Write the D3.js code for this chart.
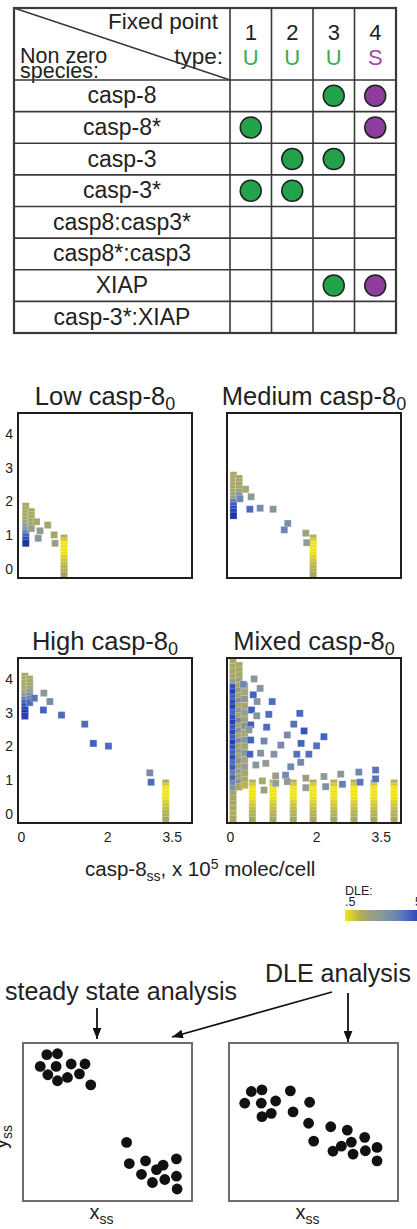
<!DOCTYPE html>
<html>
<head>
<meta charset="utf-8">
<script src="https://cdn.jsdelivr.net/npm/d3@7"></script>
<style>
  body { margin: 0; background: #fff; }
  svg { display: block; font-family: "Liberation Sans", Arial, sans-serif; }
</style>
</head>
<body>
<svg id="fig" width="417" height="1229"></svg>
<script>
// ---- Table data ----
const fixedPoints = [1, 2, 3, 4];
const fixedPointTypes = ["U", "U", "U", "S"];
const species = ["casp-8", "casp-8*", "casp-3", "casp-3*",
                 "casp8:casp3*", "casp8*:casp3", "XIAP", "casp-3*:XIAP"];
// fixed points in which each species is non zero
const nonZero = [[3, 4], [1, 4], [2, 3], [1, 2], [], [], [3, 4], []];

// ---- Scatter panels data: [casp-8ss, y value, DLE] ----
const panelNames = ["Low", "Medium", "High", "Mixed"];
const yTicks = [0, 1, 2, 3, 4];
const xTicks = [0, 2, 3.5];
const xTickLabels = ["0", "2", "3.5"];

const lowPoints = [
  [0.11, 1.86, 1.5], [0.11, 1.76, 1.5], [0.11, 1.66, 1.6], [0.11, 1.56, 1.5], [0.11, 1.46, 1.7],
  [0.11, 1.36, 1.8], [0.11, 1.26, 2.4], [0.11, 1.16, 2.8], [0.11, 1.06, 3.6], [0.11, 0.96, 4.2],
  [0.11, 0.86, 4.6], [0.11, 0.76, 5.0],
  [0.24, 1.70, 1.5], [0.24, 1.60, 1.5], [0.24, 1.50, 1.6], [0.24, 1.40, 1.7], [0.24, 1.30, 2.0],
  [0.24, 1.20, 2.2],
  [0.36, 1.40, 1.6], [0.44, 1.13, 2.4], [0.40, 0.91, 2.7], [0.62, 1.30, 1.6],
  [0.77, 1.01, 1.6], [0.79, 0.76, 2.1]
];
const mediumPoints = [
  [0.08, 2.78, 1.5], [0.08, 2.68, 1.5], [0.08, 2.58, 1.6], [0.08, 2.48, 1.5], [0.08, 2.38, 1.7],
  [0.08, 2.28, 1.6], [0.08, 2.18, 1.8], [0.08, 2.08, 2.2], [0.08, 1.98, 3.6], [0.08, 1.88, 4.3],
  [0.08, 1.78, 4.6], [0.08, 1.68, 4.8], [0.08, 1.58, 5.0],
  [0.21, 2.68, 1.5], [0.21, 2.58, 1.6], [0.21, 2.48, 1.7], [0.21, 2.38, 1.6], [0.21, 2.28, 2.0],
  [0.21, 2.18, 2.6],
  [0.36, 2.36, 1.7], [0.49, 2.14, 2.5], [0.23, 2.08, 3.4], [0.46, 1.77, 4.1], [0.70, 1.80, 3.2],
  [1.00, 1.77, 2.7], [1.34, 1.35, 3.0], [1.26, 1.16, 3.5], [1.76, 1.06, 1.9], [1.78, 0.78, 2.4]
];
const highPoints = [
  [0.09, 4.08, 1.5], [0.09, 3.98, 1.5], [0.09, 3.88, 1.6], [0.09, 3.78, 1.5], [0.09, 3.68, 1.7],
  [0.09, 3.58, 1.8], [0.09, 3.48, 2.6], [0.09, 3.38, 3.6], [0.09, 3.28, 4.3], [0.09, 3.18, 4.6],
  [0.09, 3.08, 4.8], [0.09, 2.98, 5.0], [0.09, 2.90, 4.8],
  [0.20, 4.00, 1.5], [0.20, 3.90, 1.6], [0.20, 3.80, 1.7], [0.20, 3.70, 2.0], [0.20, 3.60, 2.4],
  [0.20, 3.50, 3.0], [0.20, 3.40, 3.4], [0.20, 3.30, 4.0],
  [0.31, 3.43, 3.8], [0.53, 3.58, 2.6], [0.67, 3.33, 3.2], [0.52, 3.08, 4.2], [0.94, 2.93, 4.0],
  [1.48, 2.66, 4.0], [1.68, 2.09, 4.3], [2.03, 2.01, 4.0], [2.99, 1.22, 3.2], [3.02, 0.94, 4.0]
];
const mixedPoints = [
  // densest column along casp-8 = 0
  [0.07, 4.50, 1.5], [0.07, 4.35, 1.5], [0.07, 4.20, 1.5], [0.07, 4.05, 1.6], [0.07, 3.90, 2.5],
  [0.07, 3.75, 4.5], [0.07, 3.60, 4.8], [0.07, 3.45, 4.3], [0.07, 3.30, 4.6], [0.07, 3.15, 4.8],
  [0.07, 3.00, 4.2], [0.07, 2.85, 4.6], [0.07, 2.70, 4.8], [0.07, 2.55, 4.4], [0.07, 2.40, 4.7],
  [0.07, 2.25, 4.3], [0.07, 2.10, 4.8], [0.07, 1.95, 4.5], [0.07, 1.80, 4.2], [0.07, 1.65, 4.6],
  [0.07, 1.50, 4.0], [0.07, 1.35, 4.4], [0.07, 1.20, 3.6], [0.07, 1.05, 4.2], [0.07, 0.90, 3.4],
  [0.07, 0.75, 3.0], [0.07, 0.60, 1.8], [0.07, 0.45, 1.6], [0.07, 0.30, 1.5], [0.07, 0.15, 1.5],
  [0.07, 0.00, 1.4], [0.07, -0.15, 1.5],
  [0.21, 4.40, 1.5], [0.21, 4.25, 1.5], [0.21, 4.10, 1.6], [0.21, 3.95, 2.0], [0.21, 3.80, 1.6],
  [0.21, 3.65, 2.4], [0.21, 3.50, 1.7], [0.21, 3.35, 3.0], [0.21, 3.20, 1.6], [0.21, 3.05, 2.6],
  [0.21, 2.90, 1.8], [0.21, 2.75, 3.4], [0.21, 2.60, 1.6], [0.21, 2.45, 2.8], [0.21, 2.30, 1.7],
  [0.21, 2.15, 3.2], [0.21, 2.00, 1.6], [0.21, 1.85, 2.5], [0.21, 1.70, 1.8], [0.21, 1.55, 3.0],
  [0.21, 1.40, 1.7], [0.21, 1.25, 2.4], [0.21, 1.10, 1.6], [0.21, 0.95, 2.8], [0.21, 0.80, 1.5],
  [0.34, 3.80, 2.5], [0.34, 3.60, 1.7], [0.34, 3.40, 2.6], [0.34, 3.20, 1.6], [0.34, 3.00, 2.4],
  [0.34, 2.80, 1.7], [0.34, 2.60, 2.8], [0.34, 2.40, 1.6], [0.34, 2.20, 2.5], [0.34, 2.00, 1.8],
  [0.34, 1.80, 2.6], [0.34, 1.60, 1.7], [0.34, 1.40, 2.4], [0.34, 1.20, 1.6], [0.34, 1.00, 1.5],
  [0.34, 0.85, 1.3],
  // fan of intermediate states
  [0.56, 4.00, 2.6], [0.31, 3.84, 3.4], [0.70, 3.72, 2.8], [0.54, 3.53, 4.2], [0.98, 3.33, 4.0],
  [0.63, 3.33, 2.8], [0.50, 3.08, 4.3], [0.90, 2.95, 4.0], [1.62, 2.98, 4.1], [0.62, 2.91, 2.8],
  [0.48, 2.64, 4.3], [0.85, 2.57, 4.0], [1.48, 2.66, 3.9], [1.72, 2.46, 4.5], [0.44, 2.49, 2.6],
  [0.79, 2.16, 3.4], [1.33, 2.34, 3.2], [2.18, 2.29, 4.2], [0.48, 2.19, 4.2], [1.18, 2.04, 3.2],
  [1.65, 2.09, 4.2], [2.01, 2.02, 3.9], [0.46, 1.77, 4.2], [0.71, 1.80, 2.9], [1.02, 1.77, 2.8],
  [1.55, 1.77, 3.9], [1.83, 1.77, 3.9], [0.60, 1.45, 2.7], [0.83, 1.50, 2.4], [1.41, 1.40, 3.3],
  [1.64, 1.53, 3.4], [1.06, 1.13, 2.2], [1.29, 1.15, 3.2], [1.76, 1.06, 2.0], [2.18, 1.11, 2.5],
  [2.57, 1.18, 2.6], [2.99, 1.24, 3.4], [3.38, 1.30, 3.8], [0.75, 0.98, 1.6], [1.06, 0.91, 2.3],
  [1.33, 0.96, 2.4], [1.76, 0.78, 2.4], [2.22, 0.81, 3.0], [2.61, 0.88, 3.6], [3.02, 0.94, 3.8],
  [3.38, 1.04, 3.9], [0.79, 0.71, 2.0]
];
// steady-state stalks (stacked squares at one casp-8 value)
const stalkLevels = [0.92, 0.82, 0.72, 0.62, 0.52, 0.42, 0.32, 0.22, 0.12, 0.02, -0.08, -0.18];
const stalkDle = [1.4, 0.9, 0.5, 0.5, 0.5, 0.6, 0.8, 1.0, 1.2, 1.3, 1.4, 1.5];
const stalkX = {
  Low: [1.00],
  Medium: [1.93],
  High: [3.36],
  Mixed: [0.52, 1.00, 1.47, 1.93, 2.41, 2.88, 3.34, 3.81]
};
const panelPoints = { Low: lowPoints, Medium: mediumPoints, High: highPoints, Mixed: mixedPoints };

// ---- DLE colour legend ----
const dleDomain = [0.5, 1.5, 2.5, 3.5, 4.3, 5];
const dleColors = ["#f4e512", "#a8a862", "#8e9a96", "#6b84b4", "#3d5ec2", "#1d36a2"];

// ---- Schematic data (arbitrary units 0..10) ----
const steadyStatePoints = [
  [1.41, 9.26], [2.04, 9.32], [1.02, 8.52], [1.96, 8.52], [2.85, 8.67], [3.67, 8.67],
  [1.47, 7.99], [2.04, 7.61], [2.63, 7.82], [3.34, 8.05], [4.01, 7.35],
  [6.13, 3.71], [6.29, 2.37], [7.25, 2.54], [7.90, 1.99], [8.29, 2.27], [9.08, 2.67],
  [7.01, 1.69], [7.66, 1.17], [8.39, 1.36], [9.08, 1.57], [9.12, 0.76]
];
const dlePoints = [
  [1.32, 6.93], [1.95, 7.03], [0.93, 6.19], [1.91, 6.19], [2.76, 6.33], [3.63, 6.97],
  [4.77, 6.25], [1.95, 5.34], [2.50, 5.55], [3.79, 5.64], [4.71, 4.92], [6.02, 4.70],
  [7.00, 4.49], [5.01, 3.79], [6.15, 3.16], [6.65, 3.47], [7.24, 3.73], [8.03, 4.03],
  [7.34, 2.97], [8.07, 3.18], [8.76, 3.39], [8.76, 2.54]
];

const svg = d3.select("#fig");
const dleColor = d3.scaleLinear().domain(dleDomain).range(dleColors);

/**
* Draw the fixed point table (species x fixed point)
*/
function drawTable() {
  const g = svg.append("g");
  const left = 14, right = 396, top = 8, bottom = 333, headerBottom = 80;
  const colX = d3.scaleBand().domain(fixedPoints).range([230, right]);
  const rowY = d3.scaleBand().domain(species).range([headerBottom, bottom]);
  const lineColor = "#3a3a3a";
  const typeText = { U: "#3aad4c", S: "#a447ac" };
  const typeFill = { U: "#22a24a", S: "#8f3d9c" };

  // header texts
  g.append("text").attr("x", 218).attr("y", 29).attr("text-anchor", "end")
    .attr("font-size", 22.5).attr("fill", "#222").text("Fixed point");
  g.append("text").attr("x", 223).attr("y", 64).attr("text-anchor", "end")
    .attr("font-size", 22.5).attr("fill", "#222").text("type:");
  g.append("text").attr("x", 20).attr("y", 63)
    .attr("font-size", 21.5).attr("fill", "#222").text("Non zero");
  g.append("text").attr("x", 20).attr("y", 78)
    .attr("font-size", 21.5).attr("fill", "#222").text("species:");
  g.append("line").attr("x1", left).attr("y1", top).attr("x2", colX(1)).attr("y2", headerBottom)
    .attr("stroke", lineColor).attr("stroke-width", 1.4);

  g.selectAll("text.fpid").data(fixedPoints).enter().append("text")
    .attr("x", d => colX(d) + colX.bandwidth() / 2).attr("y", 40)
    .attr("text-anchor", "middle").attr("font-size", 22).attr("fill", "#222")
    .text(d => d);
  g.selectAll("text.fptype").data(fixedPointTypes).enter().append("text")
    .attr("x", (d, i) => colX(fixedPoints[i]) + colX.bandwidth() / 2).attr("y", 65)
    .attr("text-anchor", "middle").attr("font-size", 22).attr("fill", d => typeText[d])
    .text(d => d);

  // row labels
  g.selectAll("text.sp").data(species).enter().append("text")
    .attr("x", (left + colX(1)) / 2).attr("y", d => rowY(d) + rowY.bandwidth() / 2 + 7.5)
    .attr("text-anchor", "middle").attr("font-size", 23).attr("fill", "#222")
    .text(d => d);

  // grid lines
  g.selectAll("line.row").data(species).enter().append("line")
    .attr("x1", left).attr("x2", right)
    .attr("y1", d => rowY(d)).attr("y2", d => rowY(d))
    .attr("stroke", lineColor).attr("stroke-width", 1.6);
  g.selectAll("line.col").data(fixedPoints).enter().append("line")
    .attr("x1", d => colX(d)).attr("x2", d => colX(d))
    .attr("y1", top).attr("y2", bottom)
    .attr("stroke", lineColor).attr("stroke-width", 1.6);
  g.append("rect").attr("x", left).attr("y", top)
    .attr("width", right - left).attr("height", bottom - top)
    .attr("fill", "none").attr("stroke", lineColor).attr("stroke-width", 2.2);

  // non zero markers
  const cells = [];
  species.forEach((s, i) => nonZero[i].forEach(fp => cells.push({ s: s, fp: fp })));
  g.selectAll("circle").data(cells).enter().append("circle")
    .attr("cx", d => colX(d.fp) + colX.bandwidth() / 2)
    .attr("cy", d => rowY(d.s) + rowY.bandwidth() / 2)
    .attr("r", 10.5)
    .attr("fill", d => typeFill[fixedPointTypes[d.fp - 1]])
    .attr("stroke", "#222").attr("stroke-width", 1.5);
}

/**
* Draw one DLE scatter panel
* @param name (String): panel name ("Low", "Medium", ...)
* @param left, top: frame position
*/
function drawPanel(name, left, top, showY, showX) {
  const w = 174, h = 165;
  const x = d3.scaleLinear().domain([-0.07, 3.97]).range([left, left + w]);
  const y = d3.scaleLinear().domain([-0.267, 4.62]).range([top + h, top]);
  const g = svg.append("g");
  const clipId = "clip" + name;

  g.append("clipPath").attr("id", clipId).append("rect")
    .attr("x", left).attr("y", top).attr("width", w).attr("height", h);

  // points: stalks first, then the other states
  const pts = [];
  stalkX[name].forEach(sx => stalkLevels.forEach((lv, i) => pts.push([sx, lv, stalkDle[i]])));
  panelPoints[name].forEach(p => pts.push(p));

  const s = 7;
  g.append("g").attr("clip-path", "url(#" + clipId + ")")
    .selectAll("rect").data(pts).enter().append("rect")
    .attr("x", d => x(d[0]) - s / 2).attr("y", d => y(d[1]) - s / 2)
    .attr("width", s).attr("height", s)
    .attr("fill", d => dleColor(d[2]))
    .attr("stroke", "#ffffff").attr("stroke-opacity", 0.35).attr("stroke-width", 0.7);

  g.append("rect").attr("x", left).attr("y", top).attr("width", w).attr("height", h)
    .attr("fill", "none").attr("stroke", "#1e1e1e").attr("stroke-width", 2);

  // title
  const t = g.append("text").attr("x", left + w / 2).attr("y", top - 8)
    .attr("text-anchor", "middle").attr("font-size", 25.5).attr("fill", "#222");
  t.append("tspan").text(name + " casp-8");
  t.append("tspan").attr("font-size", 18).attr("dy", 5).text("0");

  if (showY) {
    const ay = g.append("g").attr("transform", "translate(" + left + ",0)")
      .call(d3.axisLeft(y).tickValues(yTicks).tickFormat(d3.format("d"))
        .tickSize(0).tickPadding(5));
    ay.select(".domain").remove();
    ay.selectAll("text").attr("font-size", 14).attr("fill", "#222")
      .attr("font-family", "Liberation Sans, Arial, sans-serif");
  }
  if (showX) {
    const ax = g.append("g").attr("transform", "translate(0," + (top + h) + ")")
      .call(d3.axisBottom(x).tickValues(xTicks).tickFormat((d, i) => xTickLabels[i])
        .tickSize(0).tickPadding(9));
    ax.select(".domain").remove();
    ax.selectAll("text").attr("font-size", 14).attr("fill", "#222")
      .attr("font-family", "Liberation Sans, Arial, sans-serif");
  }
}

/**
* Draw the shared x label and the DLE colour bar
*/
function drawLegend() {
  const lab = svg.append("text").attr("x", 85).attr("y", 876)
    .attr("font-size", 20.5).attr("fill", "#222");
  lab.append("tspan").text("casp-8");
  lab.append("tspan").attr("font-size", 14).attr("dy", 5).text("ss");
  lab.append("tspan").attr("dy", -5).text(", x 10");
  lab.append("tspan").attr("font-size", 14).attr("dy", -7).text("5");
  lab.append("tspan").attr("dy", 7).text(" molec/cell");

  const grad = svg.append("defs").append("linearGradient").attr("id", "dleGrad");
  const ext = d3.extent(dleDomain);
  grad.selectAll("stop").data(d3.range(0, 1.0001, 0.1)).enter().append("stop")
    .attr("offset", d => d * 100 + "%")
    .attr("stop-color", d => dleColor(ext[0] + d * (ext[1] - ext[0])));
  svg.append("rect").attr("x", 345).attr("y", 910).attr("width", 78).attr("height", 11)
    .attr("fill", "url(#dleGrad)");
  svg.append("text").attr("x", 345).attr("y", 895).attr("font-size", 12.5).attr("fill", "#222").text("DLE:");
  svg.append("text").attr("x", 345).attr("y", 906).attr("font-size", 12.5).attr("fill", "#222").text(".5");
  svg.append("text").attr("x", 415).attr("y", 906).attr("font-size", 12.5).attr("fill", "#222").text("5");
}

/**
* Draw the steady state vs DLE analysis schematic
*/
function drawSchematic() {
  const defs = svg.append("defs");
  defs.append("marker").attr("id", "arrow").attr("viewBox", "0 0 10 8")
    .attr("refX", 10).attr("refY", 4).attr("markerWidth", 11).attr("markerHeight", 9)
    .attr("markerUnits", "userSpaceOnUse").attr("orient", "auto")
    .append("path").attr("d", "M0,0L10,4L0,8z").attr("fill", "#111");

  const boxes = [
    { left: 23, pts: steadyStatePoints },
    { left: 229, pts: dlePoints }
  ];
  const top = 1043, bottom = 1201, w = 169;
  boxes.forEach(b => {
    const x = d3.scaleLinear().domain([0, 10]).range([b.left, b.left + w]);
    const y = d3.scaleLinear().domain([0, 10]).range([bottom, top]);
    svg.append("rect").attr("x", b.left).attr("y", top).attr("width", w).attr("height", bottom - top)
      .attr("fill", "none").attr("stroke", "#6e6e6e").attr("stroke-width", 2);
    svg.append("g").selectAll("circle").data(b.pts).enter().append("circle")
      .attr("cx", d => x(d[0])).attr("cy", d => y(d[1])).attr("r", 5.4).attr("fill", "#111");
    const xl = svg.append("text").attr("x", b.left + w / 2 - 6).attr("y", 1219)
      .attr("text-anchor", "middle").attr("font-size", 20).attr("fill", "#222");
    xl.append("tspan").text("x");
    xl.append("tspan").attr("font-size", 14).attr("dy", 5).text("ss");
  });

  const yl = svg.append("text").attr("transform", "translate(7,1137) rotate(-90)")
    .attr("text-anchor", "middle").attr("font-size", 20).attr("fill", "#222");
  yl.append("tspan").text("y");
  yl.append("tspan").attr("font-size", 14).attr("dy", 5).text("ss");

  svg.append("text").attr("x", 5).attr("y", 1000).attr("font-size", 25).attr("fill", "#222")
    .text("steady state analysis");
  svg.append("text").attr("x", 265).attr("y", 982).attr("font-size", 25).attr("fill", "#222")
    .text("DLE analysis");

  const arrows = [[97, 1008, 97, 1039], [332, 992, 172, 1037], [348, 993, 348, 1042]];
  svg.selectAll("line.arrow").data(arrows).enter().append("line")
    .attr("x1", d => d[0]).attr("y1", d => d[1]).attr("x2", d => d[2]).attr("y2", d => d[3])
    .attr("stroke", "#111").attr("stroke-width", 1.8).attr("marker-end", "url(#arrow)");
}

drawTable();
drawPanel("Low", 18, 413, true, false);
drawPanel("Medium", 227, 413, false, false);
drawPanel("High", 18, 658, true, true);
drawPanel("Mixed", 227, 658, false, true);
drawLegend();
drawSchematic();
</script>
</body>
</html>
